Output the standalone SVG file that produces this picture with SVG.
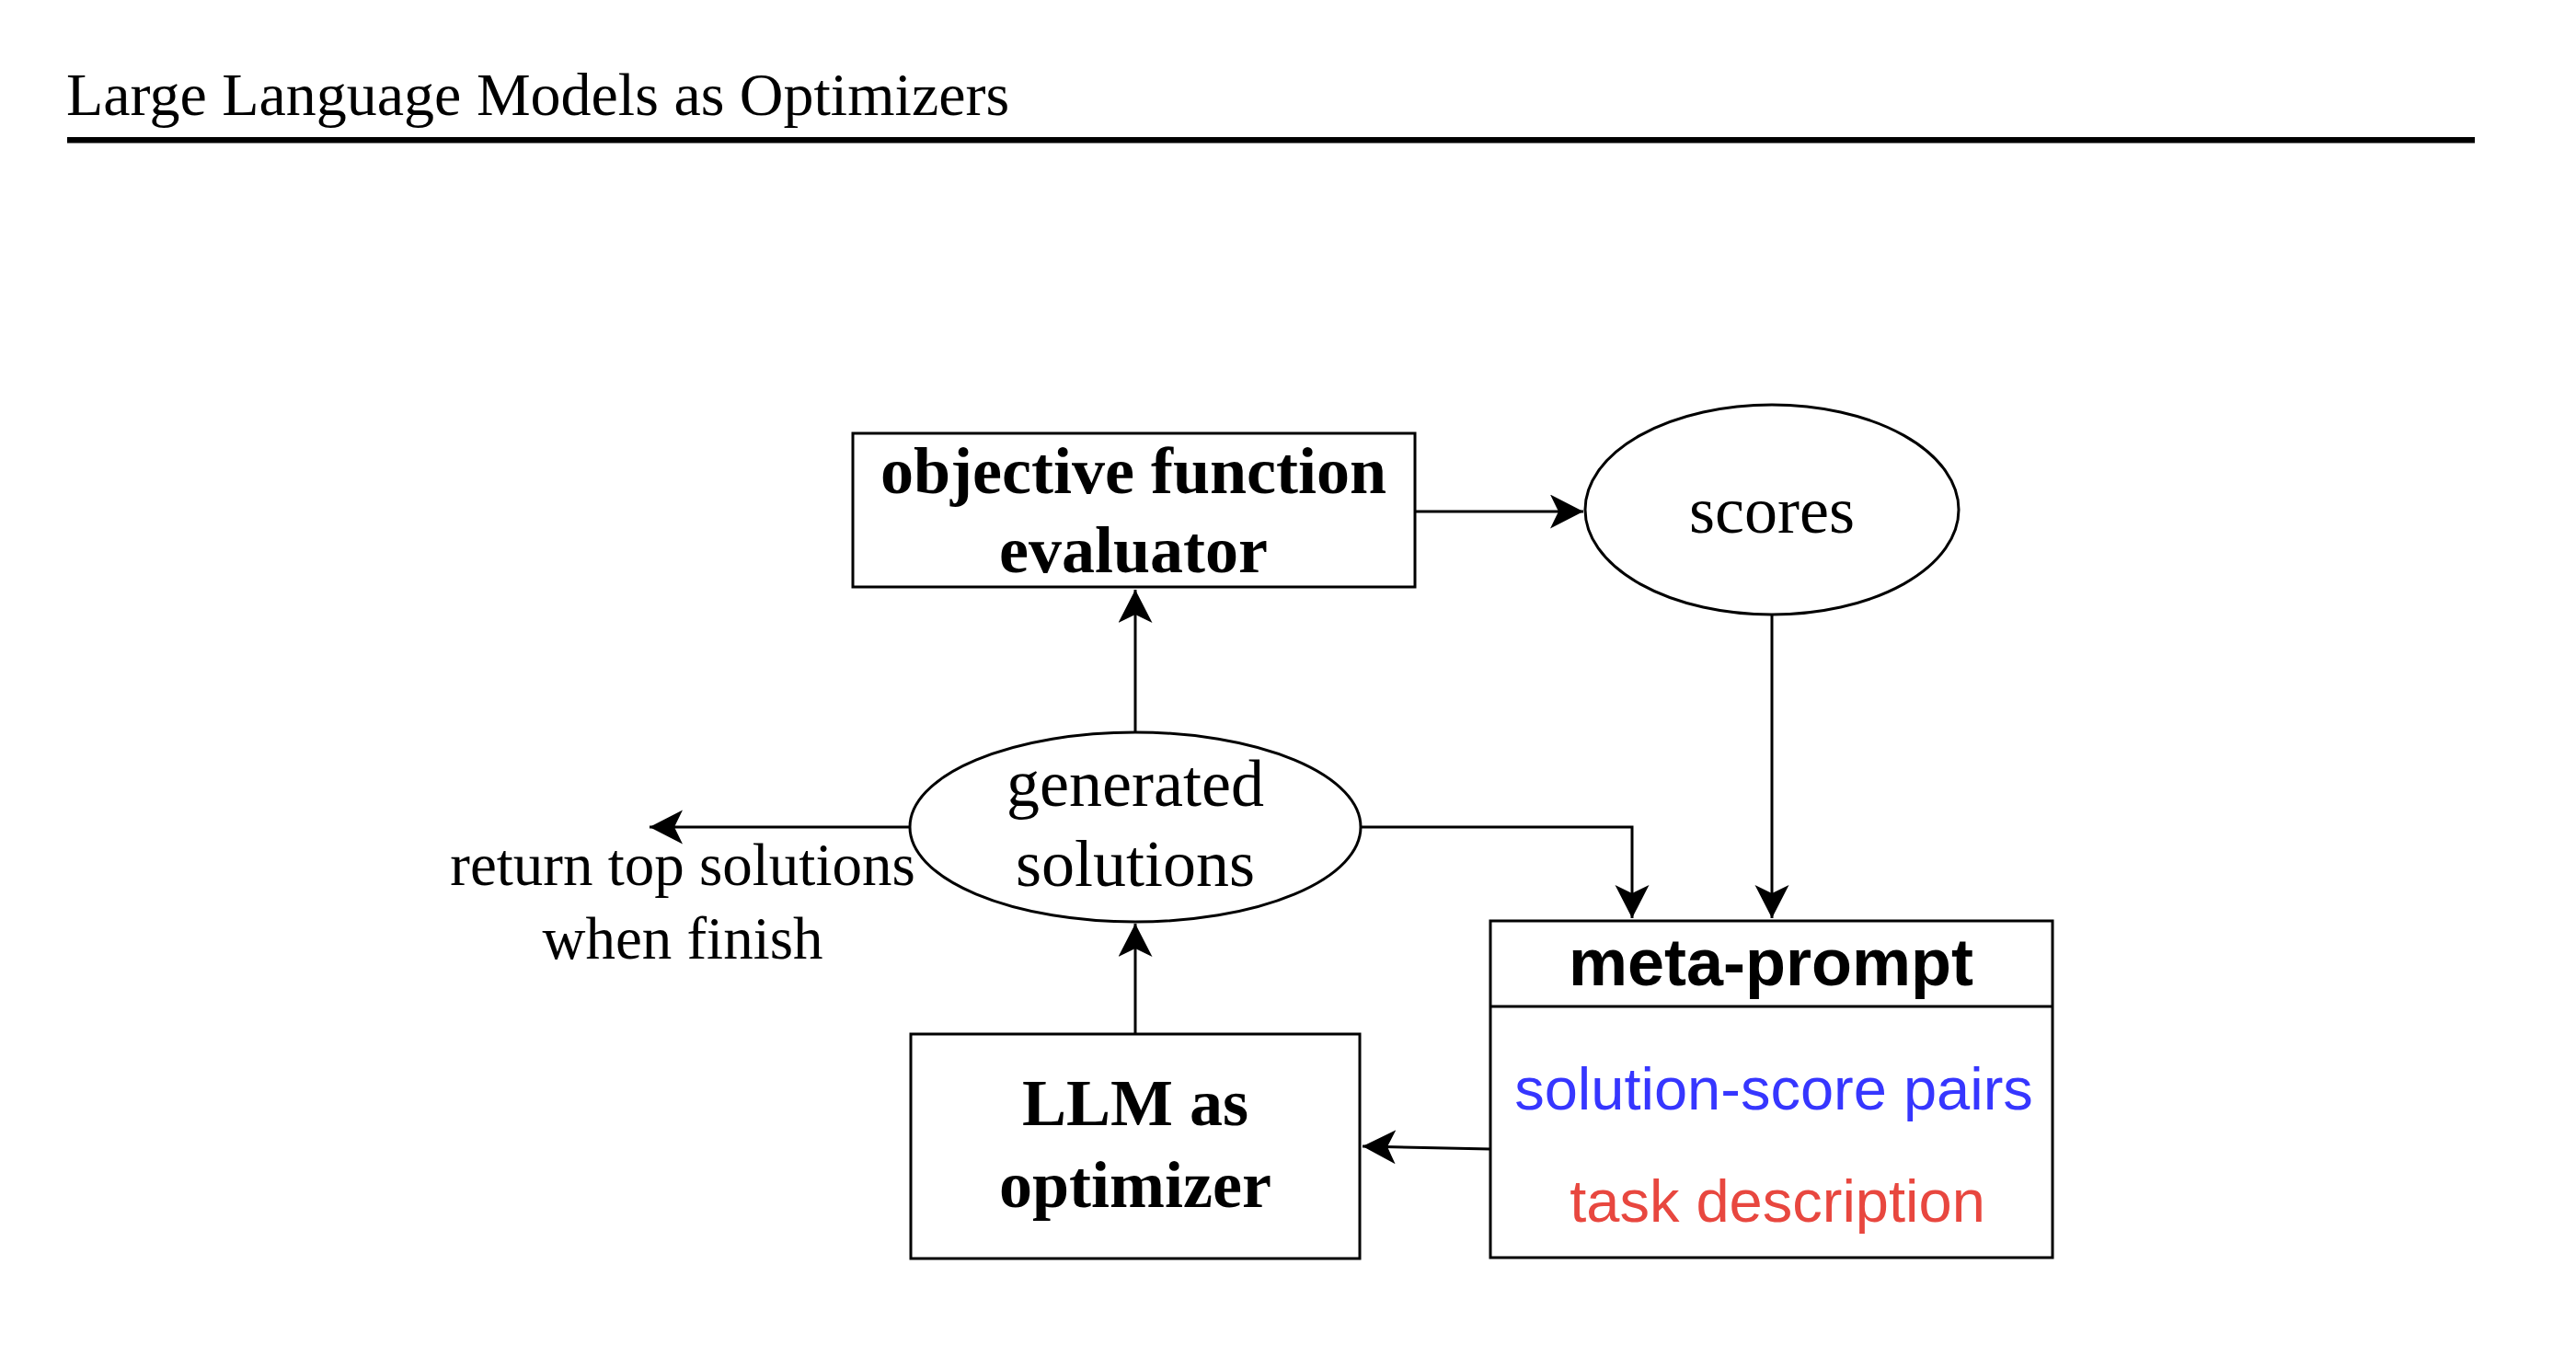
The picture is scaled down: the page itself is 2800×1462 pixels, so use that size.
<svg xmlns="http://www.w3.org/2000/svg" width="2800" height="1462" viewBox="0 0 2800 1462">
<style>
.serif{font-family:"Liberation Serif","Times New Roman",serif;fill:#000}
.sans{font-family:"Liberation Sans",Arial,sans-serif}
.b{font-weight:bold}
.shape{fill:#fff;stroke:#000;stroke-width:3}
.edge{fill:none;stroke:#000;stroke-width:3;marker-end:url(#arr)}
</style>
<defs>
<marker id="arr" markerUnits="userSpaceOnUse" markerWidth="38" markerHeight="38" refX="36" refY="18.5" orient="auto">
<path d="M0,0 L36,18.5 L0,37 L9,18.5 Z" fill="#000"/>
</marker>
</defs>
<rect width="2800" height="1462" fill="#fff"/>
<g id="header">
<text class="serif" x="72" y="125" font-size="66">Large Language Models as Optimizers</text>
<rect x="73" y="149" width="2617" height="6.5" fill="#000"/>
</g>
<g id="connectors">
<path class="edge" d="M1539,556 L1721,556"/>
<path class="edge" d="M1234,796 L1234,641"/>
<path class="edge" d="M989,899 L706,899"/>
<path class="edge" d="M1479,899 L1774,899 L1774,998"/>
<path class="edge" d="M1926,668 L1926,998"/>
<path class="edge" d="M1234,1123 L1234,1004"/>
<path class="edge" d="M1620,1249 L1481,1246"/>
</g>
<g id="node-evaluator">
<rect class="shape" x="927" y="471" width="611" height="167"/>
<text class="serif b" x="1232" y="536" font-size="72" text-anchor="middle">objective function</text>
<text class="serif b" x="1232" y="622" font-size="72" text-anchor="middle">evaluator</text>
</g>
<g id="node-scores">
<ellipse class="shape" cx="1926" cy="554" rx="203" ry="114"/>
<text class="serif" x="1926" y="579" font-size="72" text-anchor="middle">scores</text>
</g>
<g id="node-generated">
<ellipse class="shape" cx="1234" cy="899" rx="245" ry="103"/>
<text class="serif" x="1234" y="876" font-size="72" text-anchor="middle">generated</text>
<text class="serif" x="1234" y="963" font-size="72" text-anchor="middle">solutions</text>
</g>
<g id="label-return">
<text class="serif" x="742" y="962" font-size="65" text-anchor="middle">return top solutions</text>
<text class="serif" x="742" y="1042" font-size="65" text-anchor="middle">when finish</text>
</g>
<g id="node-llm">
<rect class="shape" x="990" y="1124" width="488" height="244"/>
<text class="serif b" x="1234" y="1223" font-size="72" text-anchor="middle">LLM as</text>
<text class="serif b" x="1234" y="1312" font-size="72" text-anchor="middle">optimizer</text>
</g>
<g id="node-metaprompt">
<rect class="shape" x="1620" y="1001" width="611" height="366"/>
<line x1="1620" y1="1094" x2="2231" y2="1094" stroke="#000" stroke-width="3"/>
<text class="sans b" x="1925" y="1071" font-size="72" text-anchor="middle" fill="#000">meta-prompt</text>
<text class="sans" x="1928" y="1206" font-size="65" text-anchor="middle" fill="#3636FF">solution-score pairs</text>
<text class="sans" x="1932" y="1328" font-size="65" text-anchor="middle" fill="#E8473F">task description</text>
</g>
</svg>
